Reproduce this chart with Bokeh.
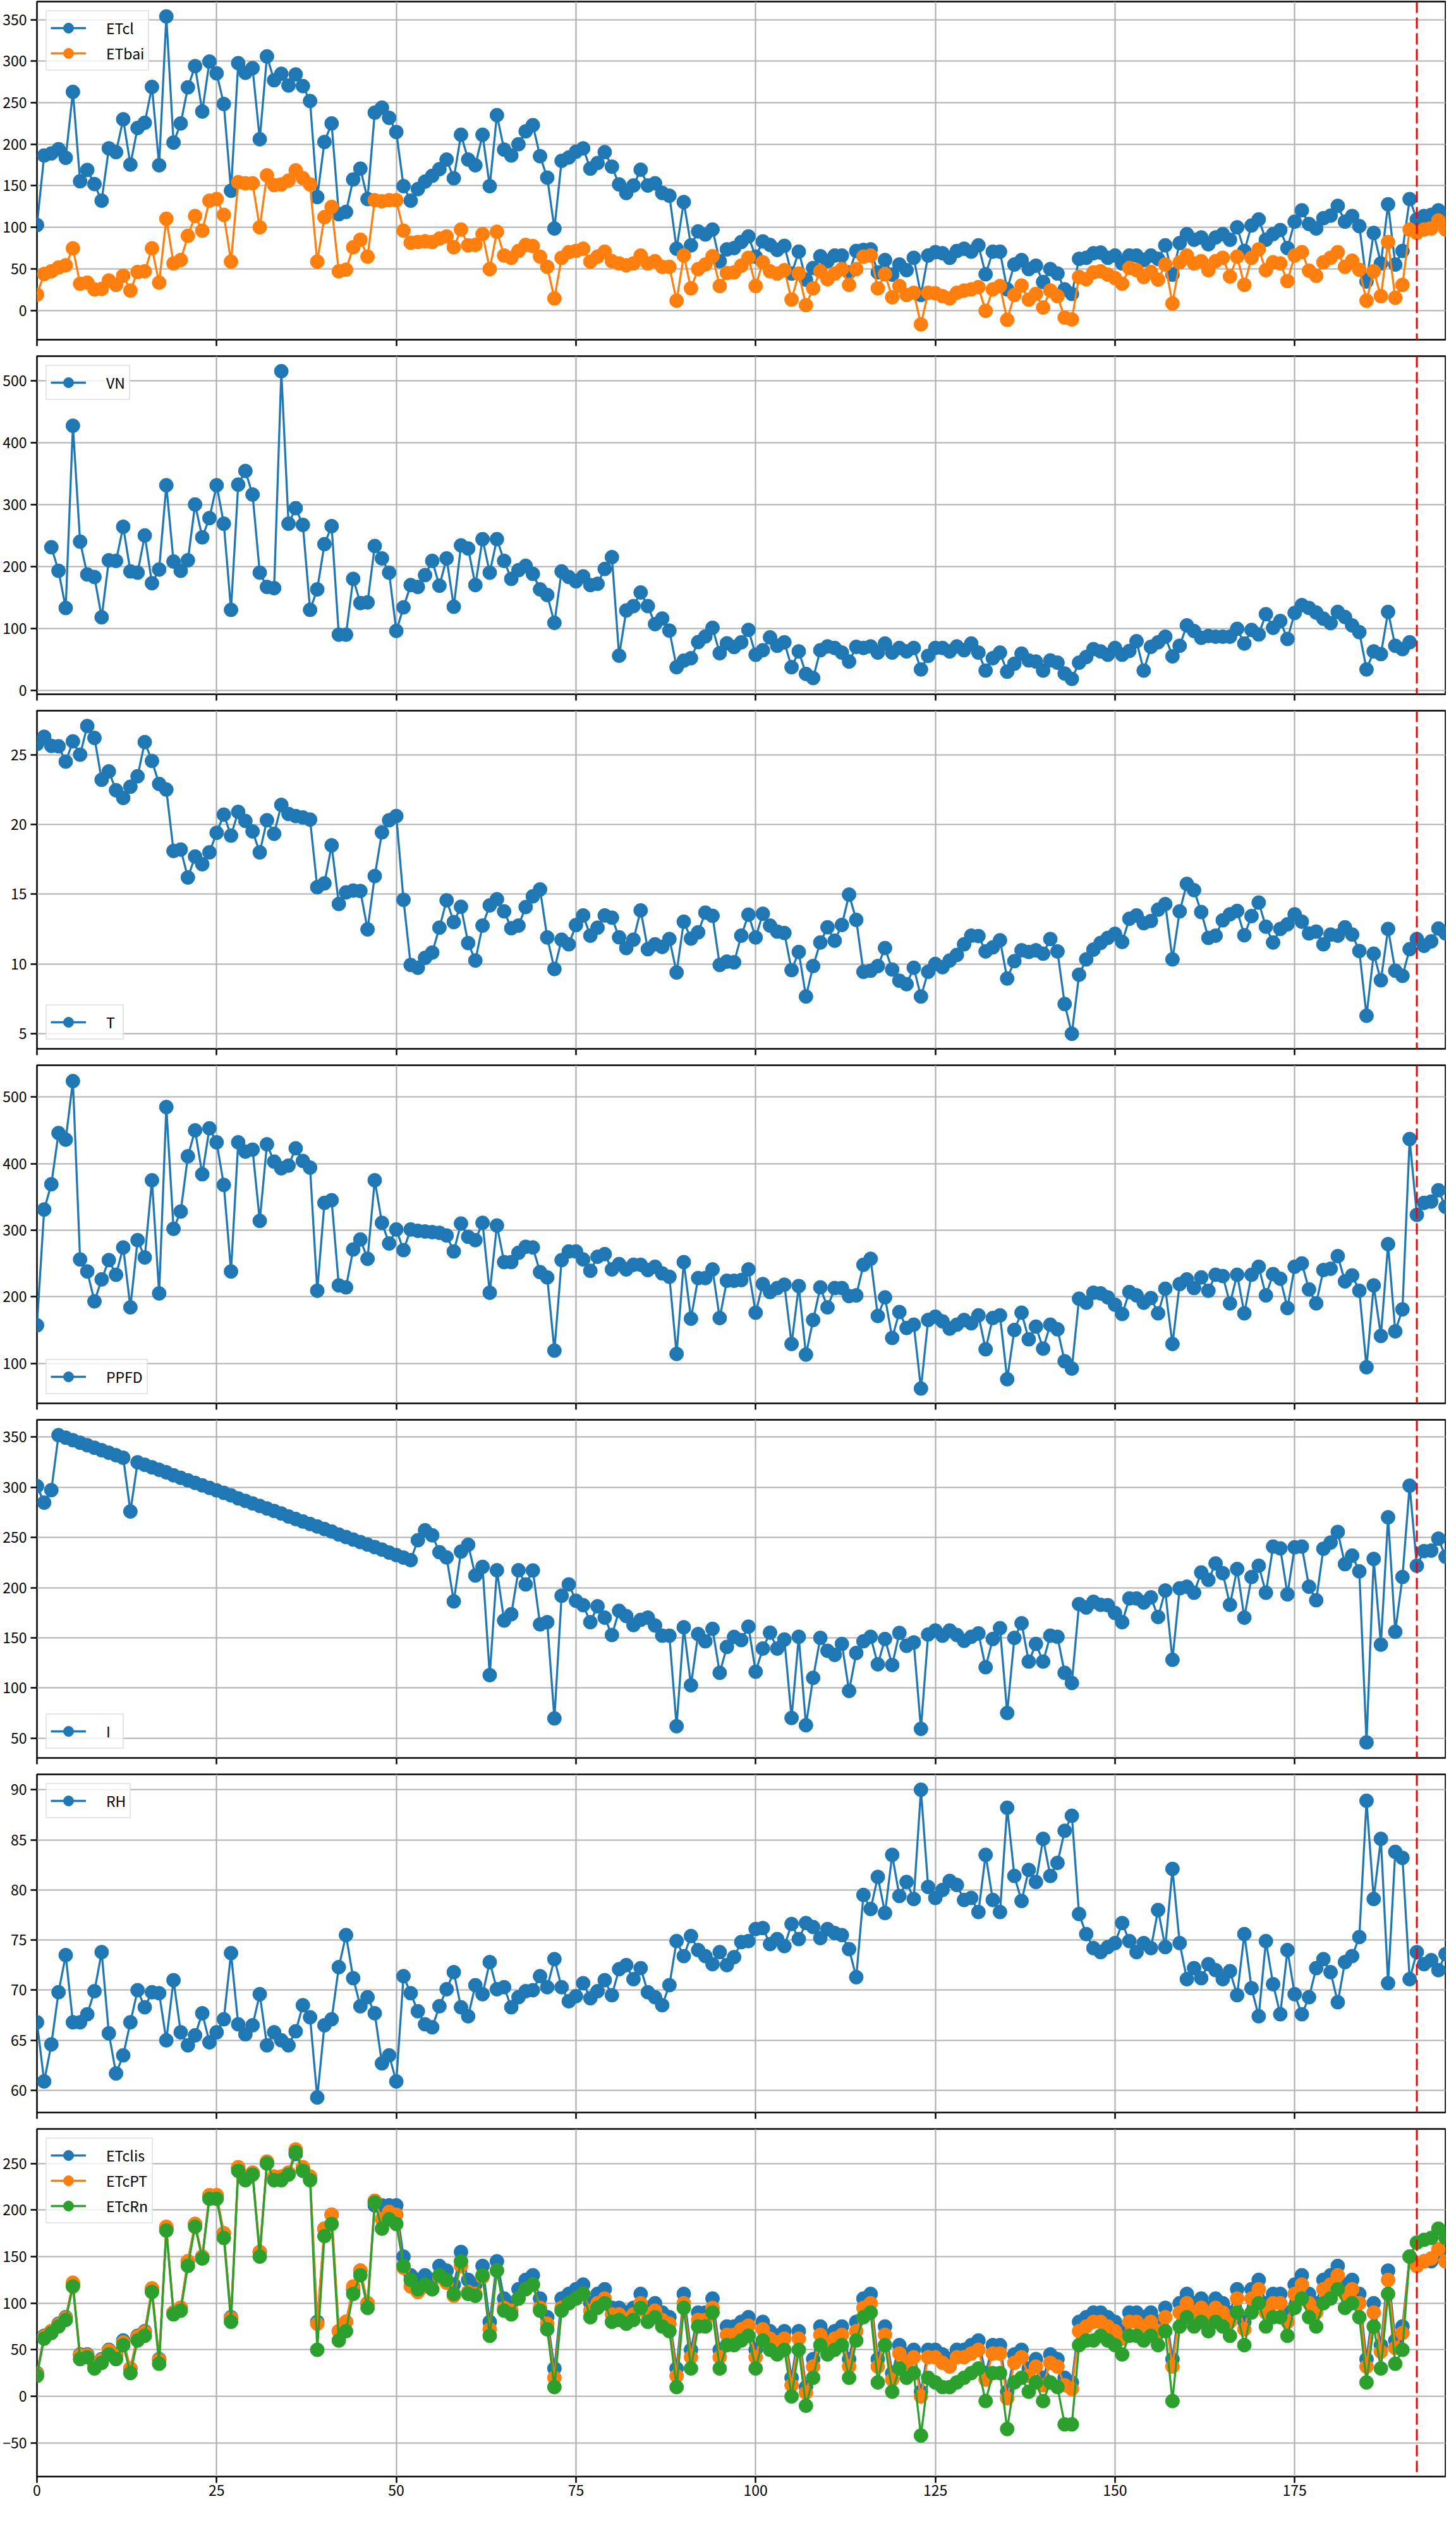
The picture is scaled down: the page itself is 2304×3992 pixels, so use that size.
from bokeh.plotting import figure
from bokeh.layouts import column
from bokeh.models import Range1d, Legend, LegendItem, Span, FixedTicker, Label
from bokeh.embed import file_html
from bokeh.resources import INLINE

# ---------------- data ----------------
days = list(range(0, 197))
vn_days = list(range(2, 192))

etcl = [102.7, 186.4, 188.9, 194, 183.7, 263, 155.4, 169, 152, 132,
        195, 190.5, 230, 175.5, 219.6, 225.8, 269, 174.7, 353.8, 202,
        225, 268.5, 294, 239.4, 299.5, 285.3, 248.4, 144, 297.6, 286,
        291.6, 206, 305.7, 277, 284.8, 270.7, 284, 270, 252, 136.4,
        202.7, 225, 115.8, 118.5, 157.6, 170.6, 134, 238, 244, 231.8,
        214.7, 149.5, 132, 146, 155, 162, 170, 181.5, 159, 211.4,
        181.5, 174.7, 211.4, 149.5, 235, 193.5, 186.4, 200, 215.5, 223,
        185.6, 159.8, 98.6, 180, 184, 191, 195, 170.6, 177.4, 190.5,
        173, 151.6, 141.3, 150.3, 169.3, 150.3, 153, 141.3, 138, 74.2,
        130.4, 78.3, 95, 91.3, 97.3, 59.2, 73.4, 75, 82.3, 89,
        64.7, 83, 78.8, 72.8, 77.7, 44.3, 70.7, 37, 51, 65.2,
        59.2, 66, 66, 45.7, 71.5, 72.8, 73.4, 45.7, 60.6, 43,
        55.2, 48.4, 63.3, 18.5, 66, 70.1, 68.8, 63.3, 71.5, 74.2,
        70.7, 78.3, 43.5, 70.7, 70.7, 25.3, 55.2, 60.6, 49.7, 53.8,
        34.2, 49.7, 44.3, 25.3, 19.8, 62, 63.3, 68.8, 69.6, 63.3,
        66, 56.5, 66, 66, 60.6, 66, 62, 78.3, 43, 81,
        91.8, 85, 87.8, 79.6, 87.8, 91.8, 85, 100, 71.5, 102.2,
        109.5, 85, 91.8, 96.7, 75, 106.8, 120.4, 104, 98.6, 110.9,
        114, 125.8, 106.8, 113.6, 101.4, 34.8, 93.2, 56.5, 127.7, 55.2,
        71.5, 134, 109.5, 113.6, 115, 120.4, 112.2]

etbai = [19, 43.8, 47, 51.6, 54.3, 74.7, 32, 33.4, 25.3, 25.8,
         36, 30.7, 41.8, 23.9, 46.2, 47, 74.7, 33.4, 110.3, 56.5,
         60.6, 89.7, 113.6, 96, 132, 134, 115, 58.7, 154.3, 153,
         153, 100, 162.5, 150.8, 151.6, 156.2, 168.5, 159.2, 151.6, 58.7,
         112.2, 124.5, 47, 49, 76, 85, 64.7, 132.6, 131.3, 132.6,
         132.6, 96, 81.5, 82.3, 83.2, 82.3, 86.4, 89, 76, 97.3,
         78.3, 78.8, 91.8, 49.7, 94.6, 66, 63.3, 71.5, 78.8, 77.4,
         64.7, 52.4, 14.4, 63.3, 70.1, 71.5, 74.2, 58.7, 64.7, 70.7,
         59.2, 56.5, 54.3, 56.5, 66, 56.5, 59.2, 52.4, 52.4, 11.7,
         66, 26.6, 49.7, 55.2, 65.2, 29.3, 45, 45.7, 53.8, 63.3,
         29.3, 57.9, 47, 44.3, 48.4, 13, 44.3, 6.3, 26.6, 47,
         37.5, 44.3, 49.7, 30.7, 49.7, 64.7, 66, 26.6, 43.5, 15.8,
         29.3, 18.5, 21.2, -16.8, 21.2, 20.7, 17.1, 14.4, 21.2, 23.9,
         25.3, 28, -0.5, 25.3, 29.3, -11.4, 18.5, 29.9, 13, 19.8,
         3.5, 23.9, 17.1, -8.7, -10.9, 40.2, 37.5, 45.7, 47, 43,
         38.9, 32, 51.1, 48.4, 40.2, 46.2, 37, 55.2, 8.2, 57.9,
         66, 56.5, 59.2, 48.4, 59.2, 63.3, 40.8, 64.7, 30.7, 63.3,
         73.4, 48.4, 57.9, 56.5, 35.3, 66, 70.1, 47.8, 41.6, 57.9,
         63.3, 70.1, 52.4, 59.8, 48.9, 11.7, 47, 17.1, 82.3, 15.2,
         30.7, 97.3, 93.2, 97.3, 98.6, 108.2, 97.3]

vn = [231, 193, 133, 427, 240, 187, 183, 118,
      210, 209, 264, 192, 190, 250, 173, 195, 331, 208,
      193, 210, 300, 247, 278, 331, 269, 130, 332, 354,
      316, 190, 167, 165, 515, 269, 294, 267, 130, 163,
      236, 265, 90, 90, 180, 141, 142, 233, 213, 190,
      96, 134, 170, 167, 186, 209, 169, 213, 135, 234,
      229, 170, 244, 190, 244, 209, 180, 194, 201, 188,
      163, 154, 109, 192, 183, 176, 184, 170, 172, 196,
      215, 56, 129, 136, 158, 136, 107, 116, 96.5, 37.5,
      48, 52, 78, 87, 101, 60, 76, 70, 77.6, 97.6,
      57.5, 64.8, 85.6, 72, 77.6, 37.5, 63, 26.6, 20, 64.8,
      71, 68.5, 61, 46.6, 70.3, 68.5, 71, 61, 75.7, 61,
      68.5, 63, 68.5, 33.9, 55.7, 68.5, 68.5, 63, 71, 64.8,
      75.7, 61, 32, 52, 61, 30.2, 43, 59.4, 48.4, 46.6,
      32, 48.4, 44.8, 27.3, 18.6, 44.8, 53.9, 66.6, 63, 57.5,
      68.5, 57.5, 63.7, 79.4, 32, 70.3, 77.6, 86.7, 55, 72,
      104.9, 95.8, 84.9, 87.8, 86.7, 86.7, 86.7, 99.4, 75.7, 97.6,
      90.3, 123, 101, 112, 83, 125, 137.6, 133, 125.6, 115.8,
      108.5, 126.7, 118.4, 104.9, 94, 33.9, 63, 58.6, 126.7, 72,
      66.6, 77.6]

temp = [25.76, 26.28, 25.63, 25.6, 24.5, 25.95, 25, 27.05, 26.2, 23.2,
        23.8, 22.45, 21.9, 22.7, 23.45, 25.9, 24.55, 22.9, 22.5, 18.1,
        18.2, 16.2, 17.7, 17.15, 18.0, 19.4, 20.7, 19.2, 20.9, 20.25,
        19.5, 18.0, 20.3, 19.33, 21.4, 20.75, 20.6, 20.5, 20.35, 15.5,
        15.78, 18.5, 14.3, 15.13, 15.26, 15.23, 12.48, 16.3, 19.43, 20.3,
        20.6, 14.6, 9.93, 9.73, 10.44, 10.82, 12.6, 14.56, 13.0, 14.1,
        11.5, 10.25, 12.75, 14.2, 14.64, 13.77, 12.56, 12.75, 14.08, 14.85,
        15.34, 11.9, 9.64, 11.74, 11.41, 12.79, 13.48, 12.03, 12.6, 13.48,
        13.32, 11.91, 11.14, 11.74, 13.84, 11.06, 11.41, 11.22, 11.79, 9.39,
        13.03, 11.82, 12.27, 13.68, 13.45, 9.93, 10.17, 10.12, 12.03, 13.53,
        11.9, 13.6, 12.75, 12.32, 12.22, 9.56, 10.86, 7.67, 9.85, 11.54,
        12.63, 11.67, 12.8, 14.97, 13.16, 9.44, 9.52, 9.85, 11.14, 9.6,
        8.8, 8.55, 9.73, 7.67, 9.44, 10.0, 9.77, 10.25, 10.65, 11.41,
        12.03, 12.0, 10.9, 11.19, 11.7, 8.96, 10.2, 10.98, 10.86, 10.98,
        10.74, 11.79, 10.9, 7.13, 5.0, 9.23, 10.33, 11.03, 11.51, 11.87,
        12.16, 11.58, 13.24, 13.48, 12.92, 13.08, 13.89, 14.29, 10.33, 13.77,
        15.74, 15.29, 13.72, 11.87, 12.03, 13.13, 13.56, 13.8, 12.06, 13.43,
        14.4, 12.67, 11.54, 12.51, 12.84, 13.56, 13.03, 12.19, 12.32, 11.41,
        12.11, 12.03, 12.63, 12.11, 10.93, 6.29, 10.74, 8.83, 12.51, 9.52,
        9.15, 11.06, 11.79, 11.3, 11.62, 12.54, 12.19]

ppfd = [157, 331, 369, 446, 436, 524, 256, 238, 193, 226,
        255, 233, 274, 184, 285, 259, 375, 205, 485, 302,
        328, 411, 450, 384, 453, 432, 368, 238, 432, 418,
        421, 314, 429, 403, 393, 397, 423, 404, 394, 209,
        341, 345, 217, 214, 271, 286, 257, 375, 311, 280,
        301, 270, 301, 299, 298, 297, 296, 292, 268, 310,
        290, 285, 311, 206, 307, 252, 252, 266, 275, 274,
        237, 229, 119, 255, 268, 268, 256, 239, 260, 264,
        241, 249, 241, 248, 248, 240, 245, 235, 230, 114,
        252, 167, 228, 228, 241, 168, 224, 224, 225, 241,
        176, 219, 207, 213, 218, 129, 216, 113, 165, 214,
        184, 213, 213, 201, 202, 248, 257, 171, 199, 138,
        177, 153, 158, 62, 165, 170, 163, 152, 158, 165,
        160, 172, 121, 168, 172, 76, 150, 176, 136, 155,
        122, 158, 151, 103, 92, 197, 191, 206, 205, 199,
        188, 174, 207, 202, 191, 198, 175, 212, 129, 219,
        226, 213, 229, 209, 233, 231, 190, 233, 175, 233,
        245, 202, 234, 227, 183, 245, 250, 211, 190, 240,
        242, 261, 223, 232, 209, 94, 217, 141, 279, 148,
        181, 437, 323, 341, 343, 360, 335]

irr = [301.2, 284.8, 297.2, 352, 349.5, 347, 344.5, 342, 339.5, 337,
       334.5, 332, 329.5, 276, 325, 322.5, 320, 317.5, 315, 312,
       309.5, 307, 304.5, 302, 299.5, 297, 294.5, 292, 289, 286.5,
       284, 281.5, 279, 276.5, 274, 271, 268.5, 266, 263.5, 261,
       258.5, 256, 253, 250.5, 248, 245.5, 243, 240.5, 238, 235,
       232.5, 230, 227.5, 247.3, 257.2, 252.2, 235.4, 230.2, 186.4, 236,
       242.8, 212.2, 220.8, 112.9, 217.4, 167.3, 173.6, 217.4, 203.3, 217.2,
       163.5, 165.7, 69.8, 192, 203.3, 187, 182.6, 165.7, 181.5, 170.2,
       152.9, 177, 171.8, 162.8, 168, 170.2, 162.4, 152.2, 152.2, 62,
       160.6, 102.8, 153.8, 146.6, 159, 115.2, 141, 151, 147.8, 161.2,
       116.3, 139.4, 155.2, 139.4, 148.4, 70.2, 151.1, 63, 110.2, 150,
       137.2, 133.1, 144, 97.2, 135, 146.6, 151.1, 123.7, 148.9, 123,
       155, 142.1, 145.5, 59.4, 153.4, 157.4, 152.2, 157.4, 152.9, 147.1,
       151.1, 154.5, 120.8, 148.9, 159.7, 75.2, 150, 164.6, 126.4, 144,
       126.4, 152.2, 151.1, 115.2, 105.1, 183.7, 180.3, 186, 183, 182.6,
       174.8, 165.7, 189.3, 189.3, 185.3, 190.4, 170.9, 197.2, 128.2, 199.4,
       201, 195, 215.2, 207.8, 224.2, 214.5, 183, 218.7, 170.2, 210.7,
       221.9, 195, 241, 239.2, 193.4, 240.3, 241, 201, 187.5, 238.8,
       245, 255.6, 223.5, 232, 216.3, 45.9, 228.7, 143.3, 270.2, 156.1,
       210.7, 301.7, 221.9, 236.5, 237, 248.9, 230.9]

rh = [66.8, 60.9, 64.6, 69.8, 73.5, 66.8, 66.8, 67.6, 69.9, 73.8,
      65.7, 61.7, 63.5, 66.8, 70.0, 68.3, 69.8, 69.7, 65.0, 71.0,
      65.8, 64.5, 65.5, 67.7, 64.8, 65.8, 67.1, 73.7, 66.6, 65.6,
      66.5, 69.6, 64.5, 65.8, 65.0, 64.5, 65.9, 68.5, 67.3, 59.3,
      66.5, 67.1, 72.3, 75.5, 71.2, 68.4, 69.3, 67.7, 62.7, 63.5,
      60.9, 71.4, 69.7, 67.9, 66.6, 66.3, 68.4, 70.1, 71.8, 68.3,
      67.4, 70.5, 69.6, 72.8, 70.1, 70.3, 68.3, 69.3, 69.9, 70.0,
      71.4, 70.3, 73.1, 70.3, 68.9, 69.4, 70.7, 69.2, 69.9, 71.0,
      69.5, 72.1, 72.5, 71.1, 72.2, 69.8, 69.3, 68.5, 70.5, 74.9,
      73.4, 75.4, 74.0, 73.4, 72.6, 73.8, 72.5, 73.3, 74.8, 74.9,
      76.1, 76.2, 74.6, 75.1, 74.4, 76.6, 75.1, 76.7, 76.3, 75.2,
      76.1, 75.7, 75.5, 74.1, 71.3, 79.5, 78.1, 81.3, 77.7, 83.5,
      79.4, 80.8, 79.1, 90.0, 80.3, 79.2, 80.0, 80.9, 80.5, 79.0,
      79.2, 77.8, 83.5, 79.0, 77.8, 88.2, 81.4, 78.9, 82.0, 80.8,
      85.1, 81.4, 82.7, 85.9, 87.4, 77.6, 75.6, 74.2, 73.8, 74.3,
      74.7, 76.7, 74.9, 73.8, 74.7, 74.2, 78.0, 74.3, 82.1, 74.7,
      71.1, 72.2, 71.2, 72.6, 72.0, 71.1, 71.9, 69.5, 75.6, 70.2,
      67.4, 74.9, 70.6, 67.6, 74.0, 69.6, 67.6, 69.3, 72.2, 73.1,
      71.8, 68.8, 72.8, 73.4, 75.3, 88.9, 79.1, 85.1, 70.7, 83.8,
      83.2, 71.1, 73.8, 72.6, 73.0, 72.0, 73.6]

etclis = [25, 65, 70, 78, 85, 120, 45, 45, 35, 40,
          50, 45, 60, 30, 65, 70, 115, 40, 180, 90,
          95, 145, 185, 150, 215, 215, 175, 85, 245, 235,
          240, 155, 250, 235, 235, 240, 260, 245, 235, 80,
          180, 195, 70, 80, 115, 135, 100, 205, 205, 205,
          205, 150, 130, 125, 130, 125, 140, 135, 120, 155,
          125, 120, 140, 80, 145, 105, 100, 115, 125, 130,
          105, 85, 30, 105, 110, 115, 120, 100, 110, 115,
          95, 95, 90, 95, 110, 95, 100, 90, 85, 30,
          110, 50, 90, 90, 105, 50, 75, 75, 80, 85,
          50, 80, 70, 65, 70, 20, 70, 10, 40, 75,
          65, 70, 75, 40, 80, 105, 110, 40, 75, 25,
          55, 45, 50, 5, 50, 50, 45, 40, 50, 50,
          55, 60, 25, 55, 55, 5, 45, 50, 30, 40,
          20, 45, 40, 20, 15, 80, 85, 90, 90, 85,
          80, 70, 90, 90, 85, 90, 80, 95, 40, 100,
          110, 100, 105, 95, 105, 100, 90, 115, 80, 115,
          125, 100, 110, 110, 90, 120, 130, 110, 100, 125,
          130, 140, 120, 125, 110, 40, 100, 55, 135, 60,
          75, 150, 140, 145, 145, 155, 145]

etcpt = [24, 64, 70, 77, 84, 122, 44, 44, 34, 39,
         49, 44, 58, 30, 64, 69, 116, 39, 182, 90,
         95, 145, 185, 150, 216, 216, 175, 84, 246, 236,
         240, 155, 252, 236, 236, 240, 265, 246, 236, 78,
         180, 195, 70, 80, 118, 135, 100, 210, 190, 198,
         195, 138, 118, 112, 118, 115, 128, 122, 108, 140,
         112, 110, 128, 72, 135, 95, 92, 105, 115, 120,
         95, 78, 20, 95, 100, 105, 110, 92, 100, 105,
         88, 88, 82, 88, 100, 88, 92, 82, 78, 22,
         100, 42, 82, 82, 95, 42, 66, 66, 72, 76,
         42, 72, 62, 58, 62, 12, 62, 4, 32, 66,
         56, 62, 66, 32, 70, 95, 100, 32, 66, 18,
         46, 36, 42, 0, 42, 42, 36, 32, 42, 42,
         46, 50, 18, 46, 46, -2, 36, 42, 22, 32,
         12, 36, 32, 12, 8, 70, 75, 80, 80, 75,
         70, 62, 80, 80, 75, 80, 70, 85, 32, 90,
         100, 90, 95, 85, 95, 90, 80, 105, 72, 105,
         115, 90, 100, 100, 80, 110, 120, 100, 90, 115,
         120, 130, 110, 115, 100, 32, 90, 48, 125, 52,
         68, 150, 140, 145, 148, 158, 145]

etcrn = [22, 62, 68, 75, 82, 118, 40, 42, 30, 36,
         45, 40, 55, 25, 60, 65, 112, 35, 178, 88,
         92, 140, 182, 148, 212, 212, 170, 80, 242, 232,
         238, 150, 250, 232, 232, 238, 262, 242, 232, 50,
         172, 185, 60, 70, 110, 130, 95, 208, 180, 190,
         185, 140, 125, 115, 120, 115, 130, 125, 110, 145,
         110, 108, 130, 65, 135, 92, 88, 105, 115, 120,
         92, 72, 10, 92, 100, 105, 110, 85, 95, 100,
         80, 82, 78, 82, 95, 80, 85, 75, 70, 10,
         95, 30, 75, 75, 90, 30, 55, 55, 60, 65,
         30, 60, 50, 45, 50, 0, 50, -10, 20, 55,
         45, 50, 55, 20, 60, 85, 90, 15, 55, 5,
         30, 20, 25, -42, 20, 15, 10, 10, 15, 20,
         25, 30, -5, 25, 25, -35, 15, 20, 5, 15,
         -5, 15, 10, -30, -30, 55, 60, 60, 65, 60,
         55, 45, 65, 65, 60, 65, 55, 70, -5, 75,
         85, 75, 80, 70, 80, 75, 65, 90, 55, 90,
         100, 75, 85, 85, 65, 95, 105, 85, 75, 100,
         105, 115, 95, 100, 85, 15, 75, 30, 110, 35,
         50, 150, 165, 168, 170, 180, 170]

x_ticks = [0, 25, 50, 75, 100, 125, 150, 175]
BLUE, ORANGE, GREEN = "#1f77b4", "#ff7f0e", "#2ca02c"
FONT = "Noto Sans CJK SC"
W = 2288


def panel(series, yr, yticks, loc, last=False):
    h = 610 if last else 561
    p = figure(width=W, height=h, x_range=Range1d(0, 196), y_range=Range1d(*yr),
               output_backend="svg", toolbar_location=None,
               min_border_left=58, min_border_right=1, min_border_top=2,
               min_border_bottom=(58 if last else 24))
    p.outline_line_color = "black"
    p.outline_line_width = 2.5
    p.background_fill_color = "white"
    p.border_fill_color = "white"
    for ax in (p.xaxis[0], p.yaxis[0]):
        ax.axis_line_color = None
        ax.major_tick_in = 0
        ax.major_tick_out = 10
        ax.major_tick_line_width = 2.5
        ax.major_tick_line_color = "black"
        ax.minor_tick_line_color = None
        ax.major_label_text_font = FONT
        ax.major_label_text_font_size = "23px"
        ax.major_label_text_color = "black"
        ax.major_label_standoff = 6
    p.xaxis.ticker = FixedTicker(ticks=x_ticks)
    p.yaxis.ticker = FixedTicker(ticks=yticks)
    if last:
        p.xaxis.major_label_standoff = 3
        p.add_layout(Label(x=97.5, y=-38, x_units="data", y_units="screen", text="d",
                           text_font=FONT, text_font_size="23px", text_color="black",
                           text_align="center", text_baseline="middle"))
    else:
        p.xaxis.major_label_text_font_size = "1px"
        p.xaxis.major_label_text_color = None
        p.xaxis.major_label_standoff = 0
    p.xgrid.grid_line_color = "#b0b0b0"
    p.ygrid.grid_line_color = "#b0b0b0"
    p.xgrid.grid_line_width = 2.2
    p.ygrid.grid_line_width = 2.2

    items = []
    for name, xs, ys, col in series:
        lr = p.line(xs, ys, line_color=col, line_width=3.3)
        sr = p.scatter(xs, ys, size=22, fill_color=col, line_color=col, marker="circle")
        items.append(LegendItem(label=name, renderers=[lr, sr]))
    p.add_layout(Span(location=192, dimension="height", line_color="#ff0000",
                      line_dash="18 7", line_width=3))
    leg = Legend(items=items, location=loc)
    leg.label_text_font = FONT
    leg.label_text_font_size = "23px"
    leg.label_text_color = "black"
    leg.glyph_width = 56
    leg.glyph_height = 40
    leg.label_standoff = 32
    leg.spacing = 0
    leg.padding = 6
    leg.margin = 14
    leg.border_line_color = "#cccccc"
    leg.border_line_width = 2
    leg.background_fill_alpha = 0.8
    p.add_layout(leg)
    return p


p1 = panel([("ETcl", days, etcl, BLUE), ("ETbai", days, etbai, ORANGE)],
           (-35.3, 371.7), [0, 50, 100, 150, 200, 250, 300, 350], "top_left")
p2 = panel([("VN", vn_days, vn, BLUE)], (-6.2, 539.3),
           [0, 100, 200, 300, 400, 500], "top_left")
p3 = panel([("T", days, temp, BLUE)], (3.92, 28.15), [5, 10, 15, 20, 25], "bottom_left")
p4 = panel([("PPFD", days, ppfd, BLUE)], (39.7, 547.8),
           [100, 200, 300, 400, 500], "bottom_left")
p5 = panel([("I", days, irr, BLUE)], (30.4, 367.3),
           [50, 100, 150, 200, 250, 300, 350], "bottom_left")
p6 = panel([("RH", days, rh, BLUE)], (57.8, 91.53),
           [60, 65, 70, 75, 80, 85, 90], "top_left")
p7 = panel([("ETclis", days, etclis, BLUE), ("ETcPT", days, etcpt, ORANGE),
            ("ETcRn", days, etcrn, GREEN)], (-86, 287),
           [-50, 0, 50, 100, 150, 200, 250], "top_left", last=True)

layout = column(p1, p2, p3, p4, p5, p6, p7, spacing=0)
open("out.html", "w").write(file_html(layout, INLINE))
